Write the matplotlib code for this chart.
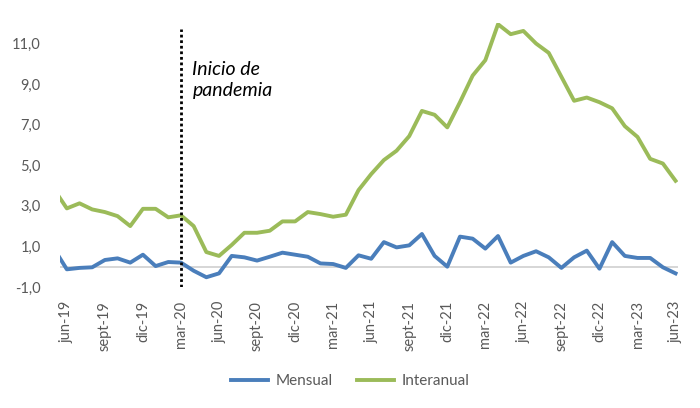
import numpy as np
import matplotlib.pyplot as plt

plt.rcParams['font.family'] = ['Lato', 'DejaVu Sans']

# monthly series from may-19 to jun-23 (may-19 sits just outside the left edge)
mensual = [0.87, -0.13, -0.06, -0.03, 0.33, 0.41, 0.20, 0.59, 0.03, 0.23, 0.20,
           -0.20, -0.52, -0.33, 0.53, 0.46, 0.30, 0.49, 0.69, 0.59, 0.49, 0.16,
           0.13, -0.06, 0.56, 0.39, 1.21, 0.95, 1.05, 1.61, 0.53, 0.00, 1.48,
           1.38, 0.89, 1.51, 0.20, 0.53, 0.76, 0.46, -0.06, 0.46, 0.79, -0.10,
           1.21, 0.53, 0.43, 0.43, -0.03, -0.33]

interanual = [3.80, 2.87, 3.12, 2.82, 2.69, 2.49, 2.00, 2.85, 2.85, 2.43, 2.53,
              2.00, 0.72, 0.53, 1.07, 1.67, 1.67, 1.77, 2.23, 2.23, 2.69, 2.59,
              2.46, 2.56, 3.77, 4.56, 5.25, 5.71, 6.43, 7.67, 7.48, 6.86, 8.10,
              9.41, 10.17, 11.94, 11.45, 11.61, 10.99, 10.53, 9.35, 8.17, 8.33,
              8.10, 7.80, 6.92, 6.39, 5.31, 5.08, 4.23]

tick_labels = ['jun-19', 'sept-19', 'dic-19', 'mar-20', 'jun-20', 'sept-20', 'dic-20',
               'mar-21', 'jun-21', 'sept-21', 'dic-21', 'mar-22', 'jun-22', 'sept-22',
               'dic-22', 'mar-23', 'jun-23']
y_ticks = [-1, 1, 3, 5, 7, 9, 11]
pandemia_idx = 9  # mar-20

x = np.arange(-1, len(mensual) - 1)

fig = plt.figure(figsize=(7, 4.08), dpi=100)
ax = fig.add_axes([0.0857, 0.2966, 0.883, 0.647])

ax.axhline(0, color='#d0d0d0', lw=1.2, zorder=1)
ax.plot(x, mensual, color='#4a7ebb', lw=2.8, label='Mensual', zorder=3,
        solid_joinstyle='round')
ax.plot(x, interanual, color='#9bbb59', lw=2.8, label='Interanual', zorder=3,
        solid_joinstyle='round')

# start of pandemic marker
ax.plot([pandemia_idx, pandemia_idx], [-1, 11.7], color='black', lw=2,
        linestyle=(0, (1, 1)), zorder=4)
ax.text(pandemia_idx + 0.9, 10.15, 'Inicio de\npandemia', style='italic', fontsize=14,
        va='top', ha='left', linespacing=1.3, color='black')

ax.set_xlim(-0.54, 48.2)
ax.set_ylim(-1, 12)
ax.set_yticks(y_ticks)
ax.set_yticklabels([f"{v:.1f}".replace('.', ',') for v in y_ticks])
ax.set_xticks(range(0, 49, 3))
ax.set_xticklabels(tick_labels, rotation=90)
ax.tick_params(axis='both', length=0, labelcolor='#595959', labelsize=10.5)
ax.tick_params(axis='x', pad=10)
ax.tick_params(axis='y', pad=14)
for s in ax.spines.values():
    s.set_visible(False)

fig.legend(loc='center', bbox_to_anchor=(0.5, 0.066), ncol=2, frameon=False,
           fontsize=11, handlelength=2.4, handletextpad=0.5, columnspacing=1.6,
           labelcolor='#595959')

fig.savefig('out.png', dpi=100)
